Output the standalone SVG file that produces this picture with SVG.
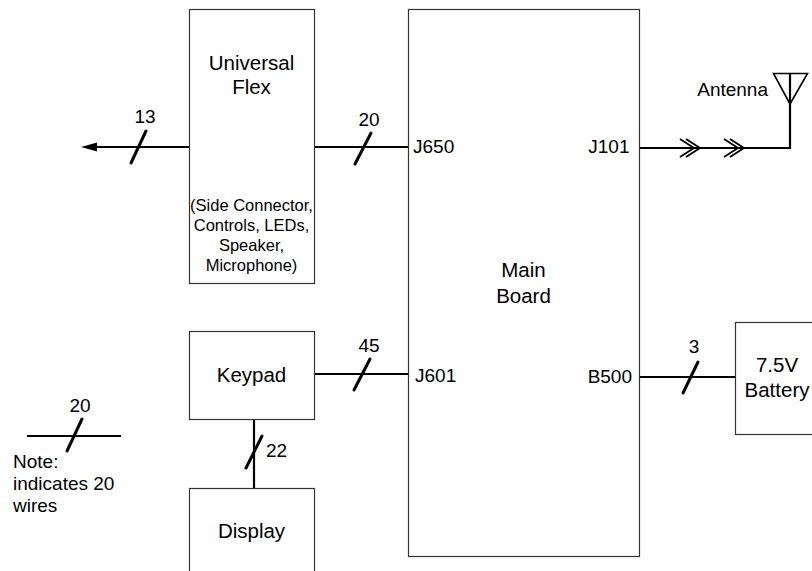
<svg xmlns="http://www.w3.org/2000/svg" width="812" height="571" viewBox="0 0 812 571">
<style>
.box{fill:#fff;stroke:#333;stroke-width:1.2}
.w{stroke:#000;stroke-width:2.2;fill:none}
.s{stroke:#000;stroke-width:3;stroke-linecap:round;fill:none}
.ch{stroke:#000;stroke-width:1.8;fill:none}
text{font-family:"Liberation Sans",Arial,sans-serif;fill:#000}
.big{font-size:20.5px;text-anchor:middle}
.lab{font-size:19px}
.sm{font-size:16.5px;text-anchor:middle}
.m{text-anchor:middle}
.e{text-anchor:end}
</style>
<rect width="812" height="571" fill="#fff"/>
<g id="connectors">
  <line class="w" x1="189" y1="147" x2="95" y2="147"/>
  <polygon points="81,147 97,142.5 97,151.5" fill="#000"/>
  <line class="s" x1="131" y1="163" x2="146" y2="131"/>
  <line class="w" x1="314" y1="147" x2="408" y2="147"/>
  <line class="s" x1="355" y1="164" x2="371" y2="133"/>
  <polyline class="w" points="639,148 790,148 790,73"/>
  <polyline class="ch" points="680,139 694,148 680,157"/>
  <polyline class="ch" points="686,139 700,148 686,157"/>
  <polyline class="ch" points="724,139 738,148 724,157"/>
  <polyline class="ch" points="730,139 744,148 730,157"/>
  <polygon points="773.5,73.5 807.5,73.5 790,104" fill="none" stroke="#000" stroke-width="1.6"/>
  <line class="w" x1="314" y1="374" x2="408" y2="374"/>
  <line class="s" x1="354" y1="390" x2="370" y2="359"/>
  <line class="w" x1="254" y1="419" x2="254" y2="488"/>
  <line class="s" x1="246" y1="468" x2="262" y2="436"/>
  <line class="w" x1="639" y1="377" x2="735" y2="377"/>
  <line class="s" x1="683" y1="393" x2="698" y2="362"/>
  <line class="w" x1="27" y1="436" x2="121" y2="436"/>
  <line class="s" x1="67" y1="451" x2="82" y2="419"/>
  <text class="lab m" x="145" y="123">13</text>
  <text class="lab m" x="369" y="126">20</text>
  <text class="lab m" x="369" y="352">45</text>
  <text class="lab" x="266" y="457">22</text>
  <text class="lab m" x="694" y="353">3</text>
  <text class="lab e" x="768" y="96">Antenna</text>
</g>
<g id="universal-flex">
  <rect class="box" x="189.5" y="9.5" width="125" height="274"/>
  <text class="big" x="251.5" y="70">Universal</text>
  <text class="big" x="251.5" y="94">Flex</text>
  <text class="sm" x="251.5" y="210.5">(Side Connector,</text>
  <text class="sm" x="251.5" y="230.5">Controls, LEDs,</text>
  <text class="sm" x="251.5" y="250.5">Speaker,</text>
  <text class="sm" x="251.5" y="270.5">Microphone)</text>
</g>
<g id="main-board">
  <rect class="box" x="408.5" y="9.5" width="231" height="547"/>
  <text class="big" x="523.5" y="277">Main</text>
  <text class="big" x="523.5" y="302.5">Board</text>
  <text class="lab" x="413" y="153">J650</text>
  <text class="lab e" x="629.5" y="153">J101</text>
  <text class="lab" x="415" y="381.5">J601</text>
  <text class="lab e" x="632" y="383">B500</text>
</g>
<g id="keypad">
  <rect class="box" x="189.5" y="331.5" width="125" height="88"/>
  <text class="big" x="251.5" y="382">Keypad</text>
</g>
<g id="display">
  <rect class="box" x="189.5" y="488.5" width="125" height="100"/>
  <text class="big" x="251.5" y="538">Display</text>
</g>
<g id="battery">
  <rect class="box" x="735.5" y="322.5" width="85" height="112"/>
  <text class="big" x="777" y="372">7.5V</text>
  <text class="big" x="777" y="397">Battery</text>
</g>
<g id="note">
  <text class="lab m" x="80" y="412">20</text>
  <text class="lab" x="13" y="468">Note:</text>
  <text class="lab" x="13" y="490">indicates 20</text>
  <text class="lab" x="13" y="512">wires</text>
</g>
</svg>
